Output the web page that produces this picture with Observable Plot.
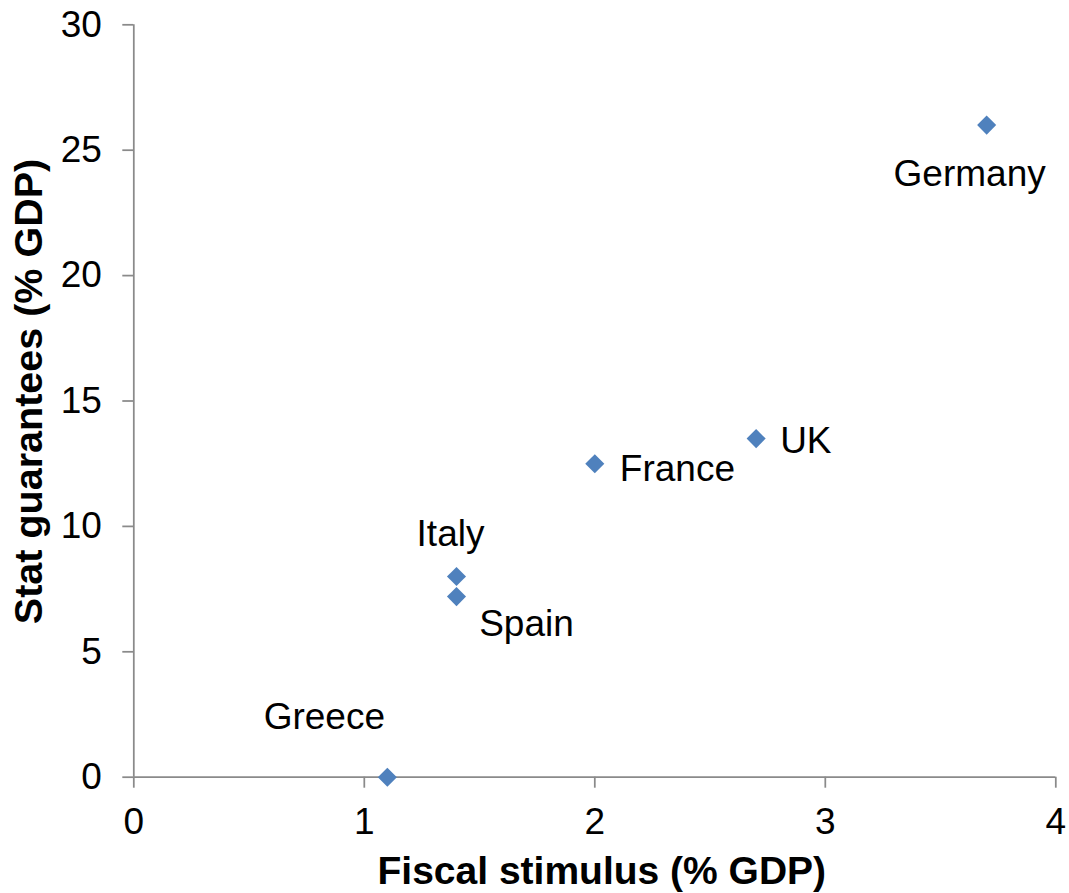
<!DOCTYPE html>
<html>
<head>
<meta charset="utf-8">
<script src="https://cdn.jsdelivr.net/npm/d3@7"></script>
<script src="https://cdn.jsdelivr.net/npm/@observablehq/plot@0.6"></script>
<style>
  html, body { margin: 0; padding: 0; background: #ffffff; }
  #chart { width: 1069px; height: 893px; }
</style>
</head>
<body>
<div id="chart"></div>
<script>
// Fiscal stimulus vs state guarantees, % of GDP
const countries = ["Greece", "Italy", "Spain", "France", "UK", "Germany"];
const fiscalStimulus = [1.1, 1.4, 1.4, 2.0, 2.7, 3.7];
const stateGuarantees = [0, 8, 7.2, 12.5, 13.5, 26];

const xTicks = [0, 1, 2, 3, 4];
const yTicks = [0, 5, 10, 15, 20, 25, 30];

const xTitle = "Fiscal stimulus (% GDP)";
const yTitle = "Stat guarantees (% GDP)";

const rows = countries.map((name, i) => ({
  name,
  x: fiscalStimulus[i],
  y: stateGuarantees[i]
}));

// where each country's label sits relative to its marker
const labelPlacement = {
  Greece:  {textAnchor: "middle", dx: -63, dy: -60},
  Italy:   {textAnchor: "middle", dx: -6,  dy: -42},
  Spain:   {textAnchor: "middle", dx: 70,  dy: 28},
  France:  {textAnchor: "start",  dx: 25,  dy: 5},
  UK:      {textAnchor: "start",  dx: 24,  dy: 3},
  Germany: {textAnchor: "middle", dx: -17, dy: 49}
};

const axisGray = "#8a8a8a";
const markerBlue = "#4F81BD";
const font = "'Liberation Sans', Arial, Helvetica, sans-serif";

const labelMarks = rows.map(d =>
  Plot.text([d], {
    x: "x",
    y: "y",
    text: "name",
    fill: "#000",
    fontSize: 37,
    ...labelPlacement[d.name]
  })
);

const chart = Plot.plot({
  width: 1069,
  height: 893,
  marginLeft: 133.3,
  marginRight: 13.7,
  marginTop: 24.3,
  marginBottom: 116.3,
  style: {fontFamily: font, fontSize: "37px", background: "#ffffff", color: "#000"},
  x: {domain: [0, 4]},
  y: {domain: [0, 30]},
  marks: [
    Plot.ruleX([0], {stroke: axisGray, strokeWidth: 1.75}),
    Plot.ruleY([0], {stroke: axisGray, strokeWidth: 1.75}),
    Plot.axisX({
      ticks: xTicks,
      tickFormat: d => String(d),
      tickSize: 11,
      tickPadding: 20,
      stroke: axisGray,
      strokeWidth: 1.75,
      fill: "#000",
      fontSize: 37,
      label: null
    }),
    Plot.axisY({
      ticks: yTicks,
      tickFormat: d => String(d),
      tickSize: 11,
      tickPadding: 21,
      stroke: axisGray,
      strokeWidth: 1.75,
      fill: "#000",
      fontSize: 37,
      label: null
    }),
    Plot.text([xTitle], {
      frameAnchor: "bottom",
      textAnchor: "middle",
      lineAnchor: "top",
      dx: 7,
      dy: 78.6,
      fontWeight: "bold",
      fontSize: 39,
      fill: "#000"
    }),
    Plot.text([yTitle], {
      frameAnchor: "left",
      textAnchor: "middle",
      rotate: -90,
      dx: -104,
      dy: -9.5,
      fontWeight: "bold",
      fontSize: 39.5,
      fill: "#000"
    }),
    Plot.dot(rows, {
      x: "x",
      y: "y",
      symbol: "diamond2",
      r: 8.6,
      fill: markerBlue,
      stroke: "none"
    }),
    ...labelMarks
  ]
});

document.getElementById("chart").appendChild(chart);
</script>
</body>
</html>
